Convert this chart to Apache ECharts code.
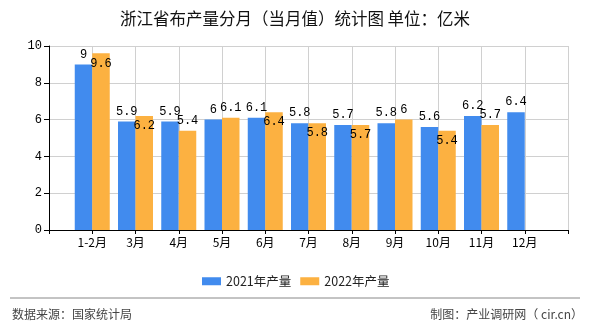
<!DOCTYPE html>
<html><head><meta charset="utf-8">
<script src="https://cdn.jsdelivr.net/npm/echarts@6/dist/echarts.min.js"></script>
<style>html,body{margin:0;padding:0;background:#fff}#c{width:590px;height:330px}</style>
</head><body><div id="c"></div>
<script>
var categories = ['', '1-2月', '3月', '4月', '5月', '6月', '7月', '8月', '9月', '10月', '11月', '12月', ''];
var values2021 = ['-', 9, 5.9, 5.9, 6, 6.1, 5.8, 5.7, 5.8, 5.6, 6.2, 6.4, '-'];
var values2022 = ['-', 9.6, 6.2, 5.4, 6.1, 6.4, 5.8, 5.7, 6, 5.4, 5.7, '-', '-'];
var label2022Pos = ['top', 'insideTop', 'insideTop', 'top', 'top', 'insideTop', 'insideTop', 'insideTop', 'top', 'insideTop', 'top', 'top', 'top'];
var yTicks = [0, 2, 4, 6, 8, 10];

var numFont = 'Liberation Mono';
var chart = echarts.init(document.getElementById('c'));
chart.setOption({
  animation: false,
  title: {text: '浙江省布产量分月（当月值）统计图 单位：亿米', left: 'center', top: 5,
    textStyle: {fontSize: 16.5, fontWeight: 'normal', color: '#111', fontFamily: 'Noto Sans CJK SC'}},
  legend: {left: 197, top: 270, itemWidth: 19, itemHeight: 8, itemGap: 9, icon: 'rect',
    textStyle: {fontSize: 12.5, color: '#222', fontFamily: 'Noto Sans CJK SC'},
    data: ['2021年产量', '2022年产量']},
  grid: {left: 49, right: 22, top: 46, bottom: 100},
  xAxis: {type: 'category', data: categories, boundaryGap: false,
    axisLine: {lineStyle: {color: '#000'}},
    axisTick: {length: 4, lineStyle: {color: '#000'}},
    axisLabel: {color: '#000', fontSize: 12, fontFamily: 'Noto Sans CJK SC', margin: 6},
    splitLine: {show: true, lineStyle: {color: '#d0d0d0'}}},
  yAxis: {type: 'value', min: yTicks[0], max: yTicks[yTicks.length - 1], interval: 2,
    axisLine: {show: true, lineStyle: {color: '#000'}},
    axisTick: {show: true, length: 5, lineStyle: {color: '#000'}},
    axisLabel: {color: '#000', fontSize: 12, fontFamily: numFont, margin: 7},
    splitLine: {lineStyle: {color: '#d0d0d0'}}},
  series: [
    {name: '2021年产量', type: 'bar', data: values2021, barWidth: 17.5, barGap: '0%',
      itemStyle: {color: '#418bee'},
      label: {show: true, position: 'top', distance: 4, color: '#000', fontSize: 12, fontFamily: numFont}},
    {name: '2022年产量', type: 'bar', barWidth: 17.5,
      data: values2022.map(function (v, i) {
        return {value: v, label: {position: label2022Pos[i]}};
      }),
      itemStyle: {color: '#fcb141'},
      label: {show: true, distance: 4, color: '#000', fontSize: 12, fontFamily: numFont}}
  ],
  graphic: [
    {type: 'line', shape: {x1: 10, y1: 298, x2: 580, y2: 298}, style: {stroke: '#888', lineWidth: 1}},
    {type: 'text', left: 12, top: 308, style: {text: '数据来源：国家统计局', fill: '#444', fontSize: 12, fontFamily: 'Noto Sans CJK SC'}},
    {type: 'text', right: 7, top: 308, style: {text: '制图：产业调研网（ cir.cn）', fill: '#444', fontSize: 12, fontFamily: 'Noto Sans CJK SC'}}
  ]
});
</script></body></html>
